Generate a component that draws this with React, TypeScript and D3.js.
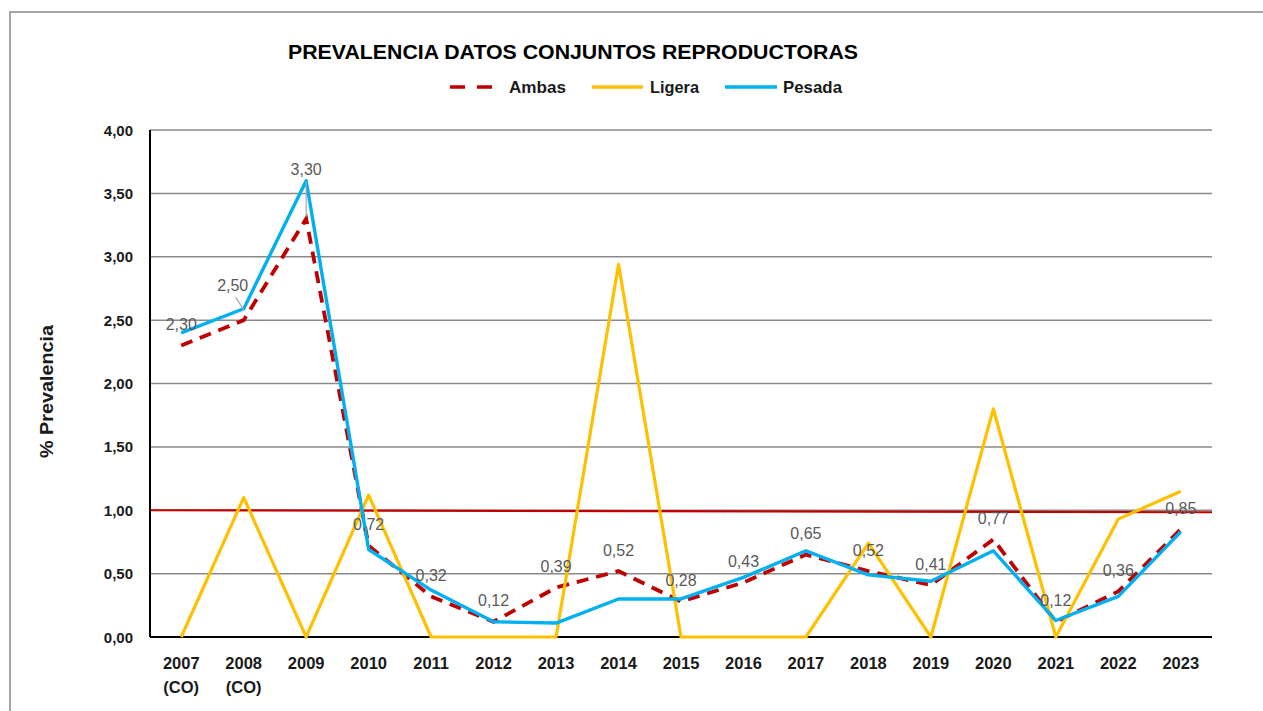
import * as d3 from 'd3';
import React, { useRef, useEffect } from 'react';

// años del eje X (las dos primeras llevan "(CO)" debajo)
const years = ['2007', '2008', '2009', '2010', '2011', '2012', '2013', '2014', '2015',
  '2016', '2017', '2018', '2019', '2020', '2021', '2022', '2023'];
const subLabels = ['(CO)', '(CO)', '', '', '', '', '', '', '', '', '', '', '', '', '', '', ''];

// % prevalencia por tipo
const ambas = [2.30, 2.50, 3.30, 0.72, 0.32, 0.12, 0.39, 0.52, 0.28, 0.43, 0.65, 0.52, 0.41, 0.77, 0.12, 0.36, 0.85];
const ligera = [0, 1.10, 0, 1.12, 0, 0, 0, 2.94, 0, 0, 0, 0.74, 0, 1.80, 0, 0.93, 1.15];
const pesada = [2.40, 2.59, 3.60, 0.69, 0.37, 0.12, 0.11, 0.30, 0.30, 0.47, 0.68, 0.49, 0.44, 0.68, 0.13, 0.32, 0.83];

const yTicks = [0, 0.5, 1, 1.5, 2, 2.5, 3, 3.5, 4];
const umbral = 1.0;

const W = 1263, H = 711;
const margin = { top: 130, right: 51, bottom: 74, left: 150 };

const esLocale = d3.formatLocale({ decimal: ',', thousands: '.', grouping: [3], currency: ['', '€'] });
const fmt = esLocale.format('.2f');

export default function App() {
  const ref = useRef<SVGSVGElement>(null);

  useEffect(() => {
    const svg = d3.select(ref.current);
    svg.selectAll('*').remove();

    const x = d3.scaleBand().domain(years).range([margin.left, W - margin.right]);
    const cx = (d: string) => (x(d) as number) + x.bandwidth() / 2;
    const y = d3.scaleLinear().domain([0, 4]).range([H - margin.bottom, margin.top]);

    // marco exterior
    svg.append('rect')
      .attr('x', 10).attr('y', 12).attr('width', W + 20).attr('height', H + 20)
      .attr('fill', 'white').attr('stroke', '#a6a6a6').attr('stroke-width', 2);

    // título
    svg.append('text')
      .attr('x', 573).attr('y', 59)
      .attr('text-anchor', 'middle')
      .attr('font-family', 'Liberation Sans, Arial, sans-serif')
      .attr('font-weight', 'bold').attr('font-size', 20)
      .attr('textLength', 570).attr('lengthAdjust', 'spacingAndGlyphs')
      .text('PREVALENCIA DATOS CONJUNTOS REPRODUCTORAS');

    // leyenda
    const legend = [
      { name: 'Ambas', color: '#c00000', dash: '15,12', x1: 450, x2: 493, tx: 509, tw: 57 },
      { name: 'Ligera', color: '#ffc000', dash: null, x1: 592, x2: 643, tx: 650, tw: 49 },
      { name: 'Pesada', color: '#00b0f0', dash: null, x1: 725, x2: 777, tx: 783, tw: 59 },
    ];
    const lg = svg.append('g');
    legend.forEach(l => {
      lg.append('line')
        .attr('x1', l.x1).attr('x2', l.x2).attr('y1', 87).attr('y2', 87)
        .attr('stroke', l.color).attr('stroke-width', 3.5)
        .attr('stroke-dasharray', l.dash);
      lg.append('text')
        .attr('x', l.tx).attr('y', 93)
        .attr('font-family', 'Liberation Sans, Arial, sans-serif')
        .attr('font-weight', 'bold').attr('font-size', 16.5)
        .attr('textLength', l.tw).attr('lengthAdjust', 'spacingAndGlyphs')
        .attr('fill', '#1a1a1a')
        .text(l.name);
    });

    // rejilla
    svg.append('g').selectAll('line').data(yTicks.filter(t => t > 0)).join('line')
      .attr('x1', margin.left).attr('x2', W - margin.right)
      .attr('y1', d => y(d)).attr('y2', d => y(d))
      .attr('stroke', '#8a8a8a').attr('stroke-width', 1.5);

    // etiquetas eje Y
    svg.append('g').selectAll('text').data(yTicks).join('text')
      .attr('x', 133).attr('y', d => y(d) + 5.5)
      .attr('text-anchor', 'end')
      .attr('font-family', 'Liberation Sans, Arial, sans-serif')
      .attr('font-weight', 'bold').attr('font-size', 15)
      .attr('fill', '#1a1a1a')
      .text(d => fmt(d));

    // título eje Y
    svg.append('text')
      .attr('transform', `translate(53,${(margin.top + H - margin.bottom) / 2 + 8}) rotate(-90)`)
      .attr('text-anchor', 'middle')
      .attr('font-family', 'Liberation Sans, Arial, sans-serif')
      .attr('font-weight', 'bold').attr('font-size', 18)
      .attr('textLength', 133).attr('lengthAdjust', 'spacingAndGlyphs')
      .attr('fill', '#1a1a1a')
      .text('% Prevalencia');

    // línea umbral 1,00
    svg.append('line')
      .attr('x1', margin.left).attr('x2', W - margin.right)
      .attr('y1', y(umbral)).attr('y2', y(umbral) + 2)
      .attr('stroke', '#c00000').attr('stroke-width', 2.2);

    // ejes
    svg.append('line')
      .attr('x1', margin.left).attr('x2', W - margin.right)
      .attr('y1', y(0)).attr('y2', y(0))
      .attr('stroke', '#000').attr('stroke-width', 2);
    svg.append('line')
      .attr('x1', margin.left).attr('x2', margin.left)
      .attr('y1', y(4)).attr('y2', y(0))
      .attr('stroke', '#000').attr('stroke-width', 2);

    // etiquetas eje X
    const xl = svg.append('g').selectAll('g').data(years).join('g');
    xl.append('text')
      .attr('x', d => cx(d)).attr('y', 669)
      .attr('text-anchor', 'middle')
      .attr('font-family', 'Liberation Sans, Arial, sans-serif')
      .attr('font-weight', 'bold').attr('font-size', 16.5)
      .attr('fill', '#1a1a1a')
      .text(d => d);
    xl.append('text')
      .attr('x', d => cx(d)).attr('y', 693)
      .attr('text-anchor', 'middle')
      .attr('font-family', 'Liberation Sans, Arial, sans-serif')
      .attr('font-weight', 'bold').attr('font-size', 16.5)
      .attr('fill', '#1a1a1a')
      .text((d, i) => subLabels[i]);

    // series
    const line = d3.line<number>().x((d, i) => cx(years[i])).y(d => y(d));
    svg.append('path').datum(ambas)
      .attr('d', line).attr('fill', 'none')
      .attr('stroke', '#c00000').attr('stroke-width', 3.8)
      .attr('stroke-dasharray', '12,8');
    svg.append('path').datum(ligera)
      .attr('d', line).attr('fill', 'none')
      .attr('stroke', '#ffc000').attr('stroke-width', 3.2)
      .attr('stroke-linejoin', 'round');
    svg.append('path').datum(pesada)
      .attr('d', line).attr('fill', 'none')
      .attr('stroke', '#00b0f0').attr('stroke-width', 3.4)
      .attr('stroke-linejoin', 'round');

    // etiquetas de datos (Ambas); 2008 y 2009 desplazadas con línea guía
    const labelShift: Record<number, [number, number]> = { 1: [-11, -35], 2: [0, -49] };
    const lbl = svg.append('g');
    ambas.forEach((v, i) => {
      const px = cx(years[i]), py = y(v);
      const [dx, dy] = labelShift[i] || [0, -21];
      if (labelShift[i]) {
        lbl.append('line')
          .attr('x1', px + dx + (i === 1 ? 3 : 0)).attr('y1', py + dy + 12)
          .attr('x2', px).attr('y2', i === 1 ? py - 10 : py - 2)
          .attr('stroke', '#a6a6a6').attr('stroke-width', 1.2);
      }
      lbl.append('text')
        .attr('x', px + dx).attr('y', py + dy + 5.5)
        .attr('text-anchor', 'middle')
        .attr('font-family', 'Liberation Sans, Arial, sans-serif')
        .attr('font-size', 16)
        .attr('fill', '#595959')
        .text(fmt(v));
    });
  }, []);

  return (
    <svg
      ref={ref}
      width={W}
      height={H}
      style={{ position: 'absolute', left: 0, top: 0, background: 'white' }}
    />
  );
}
